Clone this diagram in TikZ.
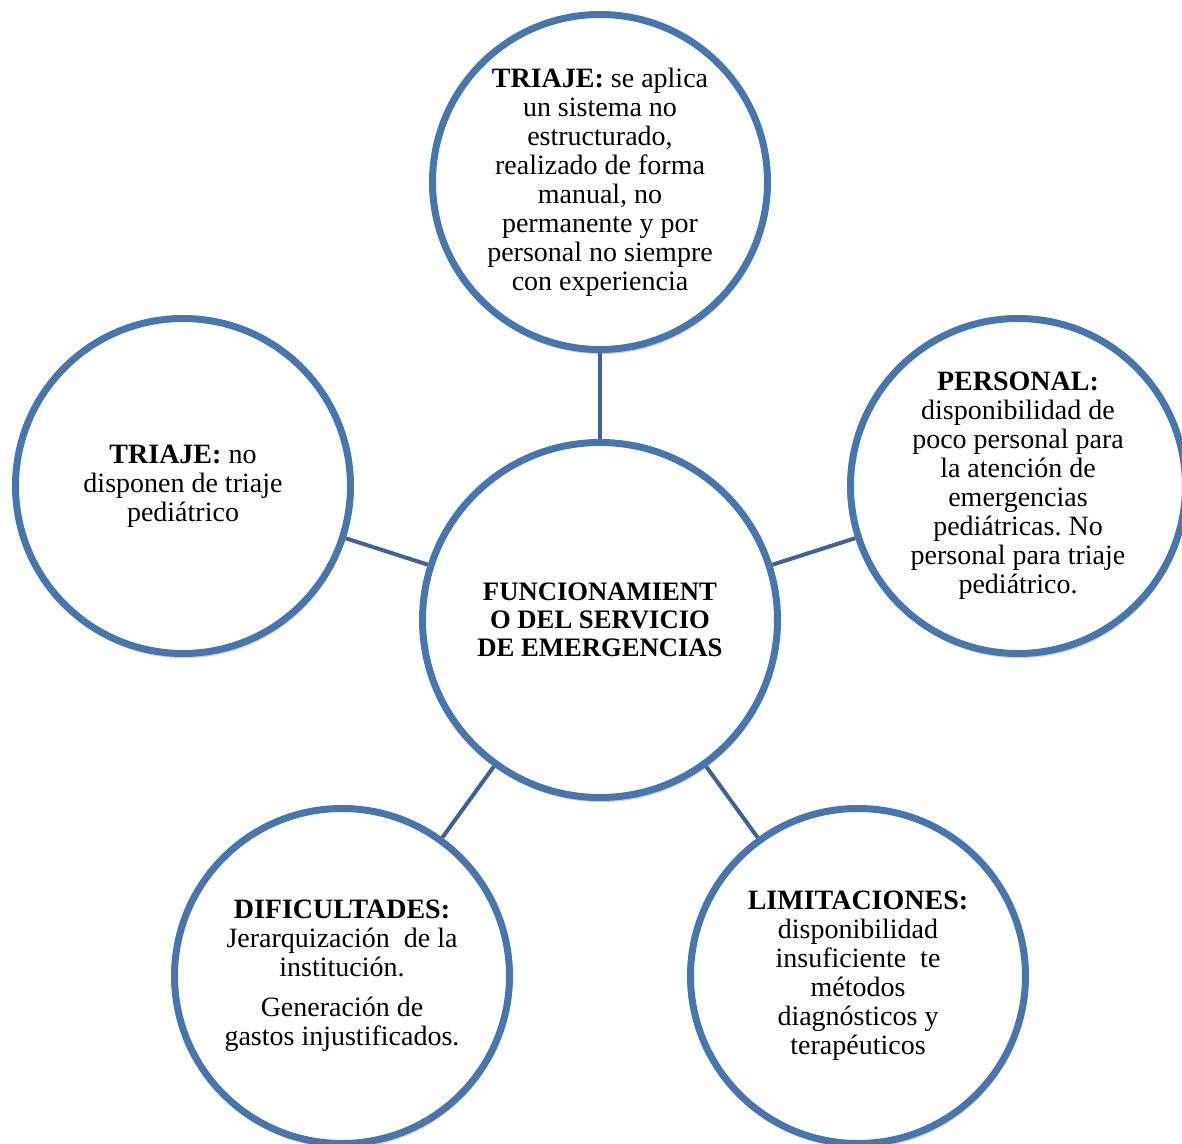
\documentclass[tikz,border=0pt]{standalone}
\usepackage{fontspec}
\setmainfont{Liberation Serif}
\usetikzlibrary{shadows}
\frenchspacing

\definecolor{ringblue}{RGB}{72,117,172}
\definecolor{linkblue}{RGB}{63,98,146}

\tikzset{
  bubble/.style={circle, draw=ringblue, line width=5.25pt, fill=white,
    minimum size=251.25pt, inner sep=0pt, align=center,
    font=\fontsize{21}{21.75}\selectfont,
    drop shadow={shadow xshift=1pt, shadow yshift=-3.5pt, fill=black, opacity=.18}},
  hub/.style={bubble, minimum size=266.25pt, font=\fontsize{20}{21}\selectfont},
  link/.style={draw=linkblue, line width=3pt}
}

\begin{document}
\begin{tikzpicture}[x=0.75pt,y=0.75pt,yscale=-1,xscale=1]
\useasboundingbox (0,0) rectangle (1182,1144);

% Center
\node [hub] (servicio) at (600,620) {\textbf{FUNCIONAMIENT}\\\textbf{O DEL SERVICIO}\\\textbf{DE EMERGENCIAS}};
% Top
\node [bubble] (triajeSup) at (600,182) {\textbf{TRIAJE:} se aplica\\un sistema no\\estructurado,\\realizado de forma\\manual, no\\permanente y por\\personal no siempre\\con experiencia};
% Right
\node [bubble] (personal) at (1018,486) {\textbf{PERSONAL:}\\disponibilidad de\\poco personal para\\la atención de\\emergencias\\pediátricas. No\\personal para triaje\\pediátrico.};
% Left
\node [bubble] (triajeIzq) at (183,486) {\textbf{TRIAJE:} no\\disponen de triaje\\pediátrico};
% Bottom left
\node [bubble] (dificultades) at (342,976) {\textbf{DIFICULTADES:}\\Jerarquización~~de la\\institución.\\[8pt]Generación de\\gastos injustificados.};
% Bottom right
\node [bubble] (limitaciones) at (858,976) {\textbf{LIMITACIONES:}\\disponibilidad\\insuficiente~~te\\métodos\\diagnósticos y\\terapéuticos};

% Connection
\draw [link] (triajeSup) -- (servicio);
\draw [link] (personal) -- (servicio);
\draw [link] (triajeIzq) -- (servicio);
\draw [link] (dificultades) -- (servicio);
\draw [link] (limitaciones) -- (servicio);

\end{tikzpicture}
\end{document}
